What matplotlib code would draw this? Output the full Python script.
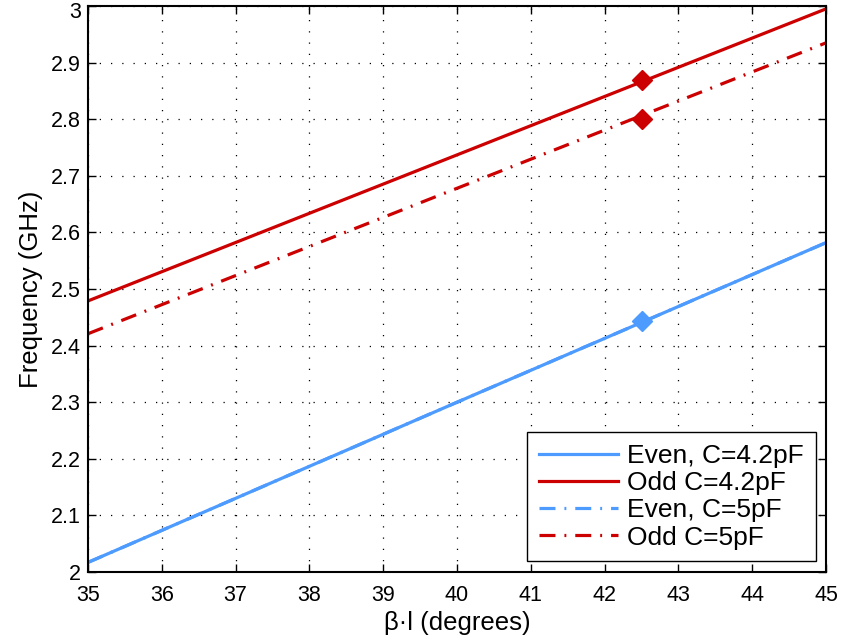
import numpy as np
import matplotlib
matplotlib.use("Agg")
from matplotlib import pyplot as plt
from matplotlib import transforms

plt.rcParams['font.family'] = ['Liberation Sans', 'DejaVu Sans']

# electrical length sweep (degrees)
beta_l = [35, 40, 45]

# resonant frequencies (GHz)
even_42 = [2.017, 2.300, 2.582]
odd_42 = [2.479, 2.737, 2.995]
even_5 = [2.017, 2.300, 2.582]
odd_5 = [2.421, 2.678, 2.935]

# design point
design_bl = 42.5
design_even = 2.443
design_odd_42 = 2.870
design_odd_5 = 2.800

BLUE = '#4d9bff'
RED = '#cc0000'

fig = plt.figure(figsize=(8.43, 6.42), dpi=100)
ax = fig.add_axes([0.1044, 0.109, 0.8755, 0.8816])

lw = 2.3
dashdot = (0, (5, 2.8, 0.6, 2.8))
ax.plot(beta_l, even_42, color=BLUE, lw=lw, label='Even, C=4.2pF')
ax.plot(beta_l, odd_42, color=RED, lw=lw, label='Odd C=4.2pF')
ax.plot(beta_l, even_5, color=BLUE, lw=lw, ls=dashdot, label='Even, C=5pF')
ax.plot(beta_l, odd_5, color=RED, lw=lw, ls=dashdot, label='Odd C=5pF')

ax.plot([design_bl], [design_even], 'D', color=BLUE, ms=10)
ax.plot([design_bl], [design_odd_42], 'D', color=RED, ms=10)
ax.plot([design_bl], [design_odd_5], 'D', color=RED, ms=10)

ax.set_xlim(35, 45)
ax.set_ylim(2, 3)
ax.set_xticks(np.arange(35, 46, 1))
ax.set_yticks(np.arange(2, 3.01, 0.1))
ax.set_yticklabels(['2', '2.1', '2.2', '2.3', '2.4', '2.5', '2.6', '2.7',
                    '2.8', '2.9', '3'])

ax.grid(True, color='black', ls=(0, (1, 8)), lw=0.9)
ax.tick_params(direction='in', length=6, width=1, top=True, right=True,
               labelsize=15.5)
ax.tick_params(axis='x', pad=9)
ax.tick_params(axis='y', pad=5)
for sp in ax.spines.values():
    sp.set_linewidth(1.5)

# keep the top tick label inside the figure
top_lbl = ax.get_yticklabels()[-1]
top_lbl.set_transform(top_lbl.get_transform() +
                      transforms.ScaledTranslation(0, -3 / 72, fig.dpi_scale_trans))

ax.set_xlabel('\u03b2\u00b7l (degrees)', fontsize=18.5, labelpad=4)
ax.set_ylabel('Frequency (GHz)', fontsize=18.5, labelpad=6)

leg = ax.legend(loc='lower right', fontsize=19, fancybox=False,
                edgecolor='black', framealpha=1, handlelength=3.0,
                borderaxespad=0.4, borderpad=0.45, labelspacing=0.12,
                handletextpad=0.35)
leg.get_frame().set_linewidth(1.0)

fig.savefig('out.png', dpi=100)
